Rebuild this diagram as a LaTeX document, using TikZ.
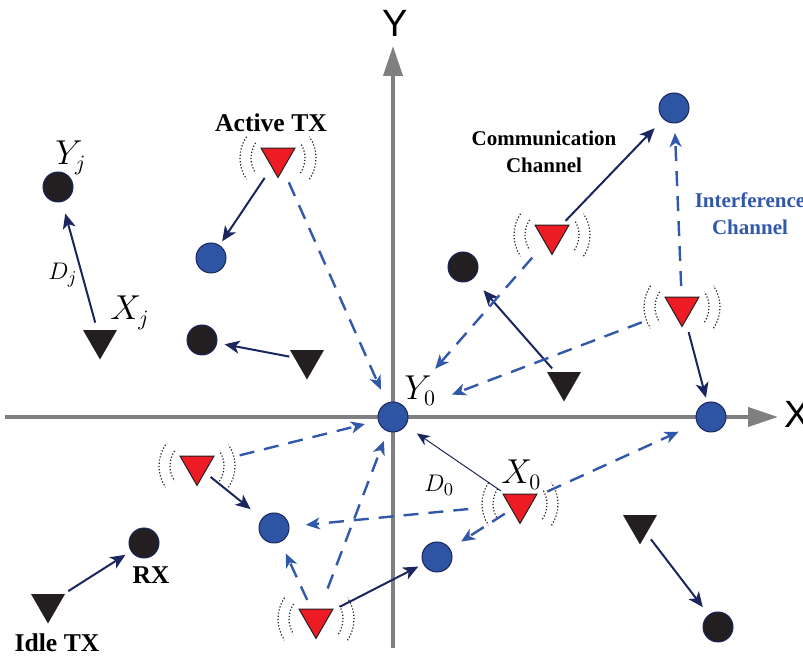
\documentclass[tikz,border=0pt]{standalone}
\usepackage{fontspec}
\newfontfamily\tnr{Liberation Serif}
\newfontfamily\arl{Liberation Sans}
\usetikzlibrary{arrows.meta,shapes.geometric}
\definecolor{navy}{RGB}{27,38,94}
\definecolor{blueC}{RGB}{46,84,164}
\definecolor{blueD}{RGB}{50,88,170}
\definecolor{redT}{RGB}{237,28,36}
\definecolor{blackF}{RGB}{35,31,32}
\definecolor{grayA}{RGB}{128,128,130}
\tikzset{
 bc/.style={circle, minimum size=15pt, inner sep=0pt, fill=blueC, draw=navy, line width=0.5pt},
 kc/.style={circle, minimum size=15pt, inner sep=0pt, fill=blackF, draw=navy, line width=0.5pt},
 rtx/.style={regular polygon, regular polygon sides=3, shape border rotate=180, minimum size=19.5pt, inner sep=0pt, fill=redT, draw=blackF, line width=0.5pt},
 ktx/.style={regular polygon, regular polygon sides=3, shape border rotate=180, minimum size=19.5pt, inner sep=0pt, fill=blackF},
 comm/.style={navy, line width=1pt, -{Stealth[length=7.5pt,width=6.5pt,inset=2pt]}},
 thin comm/.style={navy, line width=0.5pt, -{Stealth[length=6.5pt,width=5.5pt,inset=2pt]}},
 intf/.style={blueD, line width=1.2pt, dash pattern=on 7.5pt off 5pt, -{Stealth[length=7pt,width=6pt,inset=2pt]}},
 wave/.style={dash pattern=on 0.6pt off 1pt, line width=0.6pt, blackF},
 axis/.style={grayA, line width=2pt, -{Triangle[length=15pt,width=9.5pt]}},
 lbl/.style={font=\tnr\bfseries\fontsize{12.8}{15}\selectfont, inner sep=0pt},
 clbl/.style={font=\tnr\bfseries\fontsize{10.5}{13.5}\selectfont, align=center, inner sep=0pt},
 mth/.style={font=\fontsize{16}{19}\selectfont, inner sep=0pt},
 mths/.style={font=\fontsize{12.5}{15}\selectfont, inner sep=0pt},
 axl/.style={font=\arl\fontsize{19}{22}\selectfont, inner sep=0pt}
}
\newcommand\wv[1]{%
 \foreach \r in {13.5pt,19pt}{%
  \draw[wave] ([shift={(146:\r)}]#1.center) arc[start angle=146,end angle=214,radius=\r];
  \draw[wave] ([shift={(-34:\r)}]#1.center) arc[start angle=-34,end angle=34,radius=\r];
 }}
\begin{document}
\begin{tikzpicture}[x=0.5pt,y=-0.5pt]
\useasboundingbox (0,0) rectangle (803,656);
% axes
\coordinate (xs) at (5,417);
\coordinate (xe) at (778,417);
\coordinate (ys) at (393,648);
\coordinate (ye) at (393,46);
\draw[axis] (xs) -- (xe);
\draw[axis] (ys) -- (ye);
\node[axl, anchor=base] (lY) at (395,37) {Y};
\node[axl, anchor=base] (lX) at (797,428) {X};
% receivers
\node[bc] (B1) at (674,108) {};
\node[bc] (B2) at (211,258) {};
\node[bc] (Y0) at (393,417) {};
\node[bc] (B4) at (711,417) {};
\node[bc] (B5) at (274,528) {};
\node[bc] (B6) at (437,557) {};
\node[kc] (K1) at (58,187) {};
\node[kc] (K2) at (463,267) {};
\node[kc] (K3) at (202,340) {};
\node[kc] (RX) at (144,543) {};
\node[kc] (K5) at (718,627) {};
% idle transmitters
\node[ktx] (T1) at (100,340) {};
\node[ktx] (T2) at (307,360) {};
\node[ktx] (T3) at (564,382) {};
\node[ktx] (T4) at (640,525) {};
\node[ktx] (T5) at (48,604) {};
% active transmitters
\node[rtx] (A1) at (278,158) {};
\node[rtx] (A2) at (552,235) {};
\node[rtx] (A3) at (682,307) {};
\node[rtx] (A4) at (197,466) {};
\node[rtx] (A5) at (520,504) {};
\node[rtx] (A6) at (316,619) {};
\wv{A1}\wv{A2}\wv{A3}\wv{A4}\wv{A5}\wv{A6}
% communication channels
\draw[comm, shorten <=12pt, shorten >=10pt] (A1.center) -- (B2.center);
\draw[comm, shorten <=9.8pt, shorten >=14pt] (A2.center) -- (B1.center);
\draw[comm, shorten <=13pt, shorten >=10pt] (A3.center) -- (B4.center);
\draw[comm, shorten <=8.75pt, shorten >=15pt] (A4.center) -- (B5.center);
\draw[thin comm, shorten <=11.5pt, shorten >=14.5pt] (A5.center) -- (Y0.center);
\draw[comm, shorten <=13.5pt, shorten >=10.5pt] (A6.center) -- (B6.center);
\draw[comm, shorten <=9pt, shorten >=13.75pt] (T1.center) -- (K1.center);
\draw[comm, shorten <=9pt, shorten >=11.5pt] (T2.center) -- (K3.center);
\draw[comm, shorten <=9pt, shorten >=15.5pt] (T3.center) -- (K2.center);
\draw[comm, shorten <=12pt, shorten >=11pt] (T5.center) -- (RX.center);
\draw[comm, shorten <=9pt, shorten >=12.5pt] (T4.center) -- (K5.center);
% interference channels
\draw[intf, shorten <=13.3pt, shorten >=15pt] (A1.center) -- (Y0.center);
\draw[intf, shorten <=15pt, shorten >=32pt] (A2.center) -- (Y0.center);
\draw[intf, shorten <=21.5pt, shorten >=31.5pt] (A3.center) -- (Y0.center);
\draw[intf, shorten <=10.5pt, shorten >=12.5pt] (A3.center) -- (B1.center);
\draw[intf, shorten <=22pt, shorten >=14.5pt] (A4.center) -- (Y0.center);
\draw[intf, shorten <=26pt, shorten >=16pt] (A5.center) -- (B5.center);
\draw[intf, shorten <=9pt, shorten >=14.3pt] (A5.center) -- (B6.center);
\draw[intf, shorten <=15pt, shorten >=17.75pt] (A5.center) -- (B4.center);
\draw[intf, shorten <=16.3pt, shorten >=12.75pt] (A6.center) -- (Y0.center);
\draw[intf, shorten <=10.5pt, shorten >=14pt] (A6.center) -- (B5.center);
% labels
\node[lbl, anchor=base] (lA) at (271,132) {Active TX};
\node[lbl, anchor=base] (lRX) at (151,584) {RX};
\node[lbl, anchor=base] (lI) at (57,652) {Idle TX};
\node[clbl] (lC) at (544,151.5) {Communication\\Channel};
\node[clbl, text=blueD] (lIC) at (750,213.5) {Interference\\Channel};
\node[mth, anchor=base west] (lYj) at (55,165) {$Y_j$};
\node[mth, anchor=base west] (lXj) at (110,320) {$X_j$};
\node[mths, anchor=base west] (lDj) at (48,280) {$D_j$};
\node[mth, anchor=base west] (lY0) at (404,400) {$Y_0$};
\node[mth, anchor=base west] (lX0) at (501,484) {$X_0$};
\node[mths, anchor=base west] (lD0) at (424,492) {$D_0$};
\end{tikzpicture}
\end{document}
